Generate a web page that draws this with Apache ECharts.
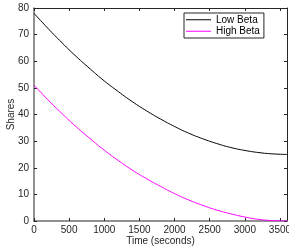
<!DOCTYPE html>
<html>
<head>
<meta charset="utf-8">
<script src="https://cdn.jsdelivr.net/npm/echarts@6/dist/echarts.min.js"></script>
<style>html,body{margin:0;padding:0;background:#fff;}#c{width:289px;height:250px;}</style>
</head>
<body>
<div id="c"></div>
<script>
const times = [0,200,400,600,800,1000,1200,1400,1600,1800,2000,2200,2400,2600,2800,3000,3200,3400,3600];
const lowBeta = [78,72.3,66.9,61.8,57.1,52.6,48.6,44.8,41.4,38.3,35.5,33.0,30.9,29.1,27.6,26.5,25.7,25.2,25.0];
const highBeta = [51,45.5,40.3,35.4,30.9,26.6,22.7,19.1,15.9,13.0,10.3,7.9,5.9,4.1,2.7,1.5,0.6,0.15,0];
const seriesNames = ['Low Beta','High Beta'];
const seriesColors = ['#000000','#ff00ff'];
const xTicks = {min:0, max:3600, interval:500};
const yTicks = {min:0, max:80, interval:10};

const font = 'Liberation Sans, Arial, Helvetica, sans-serif';
const axisCol = '#262626';
function pairs(xs, ys){ return xs.map((x,i)=>[x, ys[i]]); }

const chart = echarts.init(document.getElementById('c'));
chart.setOption({
  animation:false,
  backgroundColor:'#fff',
  grid:{left:34, right:2, top:8, bottom:29, containLabel:false, outerBoundsMode:'none'},
  legend:{
    data:seriesNames.map(n=>({name:n, icon:'rect'})), orient:'vertical', left:184, top:13,
    itemWidth:25, itemHeight:1, itemGap:0,
    padding:[1,4,1,2], borderColor:axisCol, borderWidth:1, backgroundColor:'#fff',
    textStyle:{fontFamily:font, fontSize:10, color:'#000', lineHeight:11.5}
  },
  xAxis:[{
    type:'value', min:xTicks.min, max:xTicks.max, interval:xTicks.interval,
    name:'Time (seconds)', nameLocation:'middle', nameGap:15, nameMoveOverlap:false,
    nameTextStyle:{fontFamily:font, fontSize:10, color:axisCol},
    axisLine:{show:true, onZero:false, lineStyle:{color:'#6e6e6e', width:1.5}},
    axisTick:{show:true, inside:true, length:3, lineStyle:{color:axisCol}},
    axisLabel:{fontFamily:font, fontSize:10, color:axisCol, margin:4, showMaxLabel:false, formatter:v=>String(v)},
    splitLine:{show:false}
  },{
    type:'value', position:'top', min:xTicks.min, max:xTicks.max, interval:xTicks.interval,
    axisLine:{show:true, onZero:false, lineStyle:{color:axisCol, width:1}},
    axisTick:{show:true, inside:true, length:3, lineStyle:{color:axisCol}},
    axisLabel:{show:false}, splitLine:{show:false}
  }],
  yAxis:[{
    type:'value', min:yTicks.min, max:yTicks.max, interval:yTicks.interval,
    name:'Shares', nameLocation:'middle', nameGap:18, nameMoveOverlap:false,
    nameTextStyle:{fontFamily:font, fontSize:10, color:axisCol},
    axisLine:{show:true, onZero:false, lineStyle:{color:'#6e6e6e', width:1.5}},
    axisTick:{show:true, inside:true, length:3, lineStyle:{color:axisCol}},
    axisLabel:{fontFamily:font, fontSize:10, color:axisCol, margin:5},
    splitLine:{show:false}
  },{
    type:'value', position:'right', min:yTicks.min, max:yTicks.max, interval:yTicks.interval,
    axisLine:{show:true, onZero:false, lineStyle:{color:axisCol, width:1}},
    axisTick:{show:true, inside:true, length:3, lineStyle:{color:axisCol}},
    axisLabel:{show:false}, splitLine:{show:false}
  }],
  series:seriesNames.map((n,i)=>({
    name:n, type:'line', data:pairs(times, i===0?lowBeta:highBeta), smooth:true, symbol:'none', showSymbol:false,
    lineStyle:{color:seriesColors[i], width:1}, itemStyle:{color:seriesColors[i]}
  }))
});
</script>
</body>
</html>
